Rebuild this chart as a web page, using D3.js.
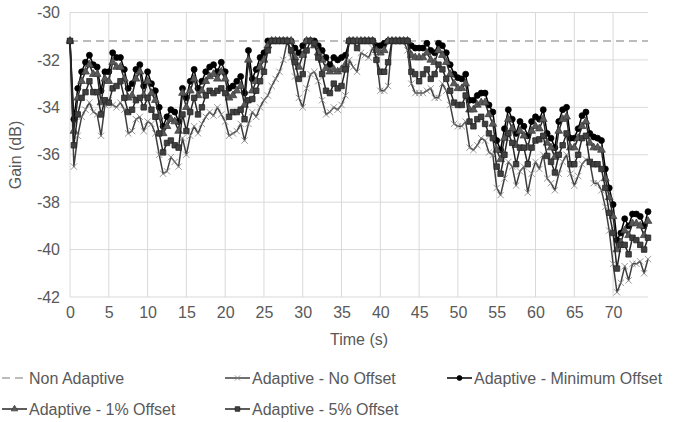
<!DOCTYPE html>
<html><head><meta charset="utf-8">
<script src="https://cdn.jsdelivr.net/npm/d3@7"></script>
<style>body{margin:0;background:#fff}svg{display:block;font-family:"Liberation Sans",Arial,sans-serif}</style>
</head><body><svg id="c" width="688" height="422"></svg>
<script>
const times = [0,0.5,1,1.5,2,2.5,3,3.5,4,4.5,5,5.5,6,6.5,7,7.5,8,8.5,9,9.5,
10,10.5,11,11.5,12,12.5,13,13.5,14,14.5,15,15.5,16,16.5,17,17.5,18,18.5,19,19.5,
20,20.5,21,21.5,22,22.5,23,23.5,24,24.5,25,25.5,26,26.5,27,27.5,28,28.5,29,29.5,
30,30.5,31,31.5,32,32.5,33,33.5,34,34.5,35,35.5,36,36.5,37,37.5,38,38.5,39,39.5,
40,40.5,41,41.5,42,42.5,43,43.5,44,44.5,45,45.5,46,46.5,47,47.5,48,48.5,49,49.5,
50,50.5,51,51.5,52,52.5,53,53.5,54,54.5,55,55.5,56,56.5,57,57.5,58,58.5,59,59.5,
60,60.5,61,61.5,62,62.5,63,63.5,64,64.5,65,65.5,66,66.5,67,67.5,68,68.5,69,69.5,
70,70.5,71,71.5,72,72.5,73,73.5,74,74.5];

const nonAdaptiveTimes = [0, 74.5];
const nonAdaptive = [-31.2, -31.2];

const noOffset = [-31.2,-36.5,-35.2,-34.4,-34.1,-33.8,-34.2,-34.3,-35.2,-33.9,
-33.7,-33.9,-34.0,-33.8,-34.1,-35.1,-35.0,-34.5,-34.4,-35.0,
-34.6,-34.7,-35.1,-36.0,-36.8,-36.7,-36.1,-36.3,-36.5,-35.3,
-36.0,-35.2,-34.8,-35.1,-34.7,-34.4,-34.2,-34.35,-34.0,-34.3,
-34.6,-35.2,-35.1,-35.0,-34.7,-35.4,-34.7,-34.2,-34.4,-34.0,
-33.7,-33.5,-33.1,-32.8,-32.5,-32.0,-31.2,-31.9,-32.7,-33.6,
-34.0,-33.2,-32.6,-32.5,-32.9,-33.7,-34.3,-34.2,-34.0,-34.1,
-33.9,-33.5,-32.0,-32.3,-32.5,-31.7,-31.8,-31.9,-31.5,-31.9,
-33.3,-33.3,-33.1,-31.2,-31.2,-31.2,-31.2,-31.6,-33.0,-33.4,
-33.4,-33.4,-33.3,-33.2,-33.6,-33.6,-33.0,-33.3,-33.9,-34.7,
-34.8,-34.8,-34.6,-35.7,-35.8,-35.6,-35.3,-35.4,-35.9,-36.0,
-37.4,-37.7,-37.0,-36.3,-36.5,-37.3,-36.7,-36.5,-37.6,-36.8,
-36.3,-36.6,-36.0,-37.0,-37.2,-37.5,-36.8,-36.3,-36.0,-36.8,
-37.3,-36.9,-36.4,-36.2,-36.3,-37.2,-37.2,-37.5,-38.2,-39.2,
-40.6,-41.8,-41.4,-40.7,-41.3,-40.6,-40.6,-40.5,-41.0,-40.4];

const minOffset = [-31.2,-34.5,-33.2,-32.5,-32.1,-31.8,-32.2,-32.3,-33.3,-32.5,
-32.5,-31.7,-31.9,-31.9,-32.4,-33.2,-33.0,-32.4,-32.2,-33.1,
-32.5,-33.0,-33.3,-34.0,-34.8,-34.4,-34.1,-34.2,-34.6,-33.2,
-33.6,-32.9,-32.4,-33.2,-32.9,-32.5,-32.3,-32.2,-32.5,-32.1,
-32.5,-33.2,-33.1,-32.9,-32.7,-33.4,-31.6,-32.8,-32.4,-31.9,
-31.7,-31.2,-31.2,-31.2,-31.2,-31.2,-31.2,-31.2,-31.5,-31.7,
-31.4,-31.2,-31.2,-31.2,-31.4,-31.6,-31.9,-32.2,-31.9,-32.0,
-31.9,-31.8,-31.2,-31.2,-31.2,-31.2,-31.2,-31.2,-31.2,-31.4,
-31.4,-31.3,-31.2,-31.2,-31.2,-31.2,-31.2,-31.2,-31.4,-31.5,
-31.5,-31.5,-31.3,-31.6,-31.7,-31.3,-31.4,-31.7,-32.2,-32.6,
-32.75,-32.8,-32.6,-33.7,-33.7,-33.5,-33.4,-33.4,-33.9,-34.2,
-35.4,-35.8,-34.9,-34.1,-34.5,-35.1,-34.6,-34.8,-35.2,-34.6,
-34.4,-34.5,-34.1,-35.1,-35.3,-35.7,-34.6,-34.1,-34.0,-35.3,
-35.3,-34.9,-34.35,-34.2,-35.1,-35.25,-35.3,-35.4,-36.6,-37.4,
-38.1,-39.6,-39.3,-38.7,-39.0,-38.5,-38.5,-38.6,-39.0,-38.4];

const offset1 = [-31.2,-35.0,-33.6,-32.9,-32.5,-32.2,-32.6,-32.6,-33.8,-32.8,
-32.9,-32.1,-32.3,-32.3,-32.8,-33.6,-33.5,-32.8,-32.5,-33.5,
-32.9,-33.4,-33.7,-34.4,-35.1,-34.8,-34.5,-34.6,-35.0,-33.4,
-34.0,-33.3,-32.8,-33.5,-33.3,-32.9,-32.7,-32.6,-32.8,-32.5,
-32.8,-33.6,-33.5,-33.3,-33.1,-33.9,-32.0,-33.3,-32.9,-32.3,
-32.0,-31.4,-31.2,-31.2,-31.2,-31.2,-31.2,-31.2,-31.9,-32.3,
-31.8,-31.2,-31.2,-31.4,-31.7,-32.0,-32.35,-32.5,-32.4,-32.5,
-32.4,-32.2,-31.2,-31.2,-31.2,-31.2,-31.2,-31.2,-31.2,-31.6,
-31.7,-31.6,-31.2,-31.2,-31.2,-31.2,-31.2,-31.2,-31.8,-31.9,
-31.9,-31.9,-31.7,-32.0,-32.1,-31.6,-31.8,-32.1,-32.6,-33.0,
-33.2,-33.2,-33.0,-34.1,-34.1,-33.9,-33.8,-33.8,-34.3,-34.7,
-35.8,-36.2,-35.3,-34.5,-34.9,-35.6,-35.0,-35.2,-35.7,-35.0,
-34.8,-34.9,-34.5,-35.5,-35.7,-36.1,-35.0,-34.5,-34.4,-35.7,
-35.7,-35.3,-34.8,-34.6,-35.5,-35.7,-35.7,-35.8,-37.0,-37.8,
-38.6,-40.0,-39.7,-39.2,-39.4,-38.9,-38.9,-39.0,-39.4,-38.8];

const offset5 = [-31.2,-35.6,-34.3,-33.6,-33.36,-32.9,-33.36,-33.36,-34.3,-33.7,
-33.8,-33.2,-33.1,-32.9,-33.6,-34.2,-34.1,-33.7,-33.6,-34.0,
-33.6,-34.1,-34.4,-35.1,-35.9,-35.5,-35.4,-35.6,-35.7,-34.3,
-35.0,-34.2,-33.6,-34.3,-34.0,-33.5,-33.3,-33.4,-33.3,-33.2,
-33.4,-34.4,-34.2,-34.2,-34.1,-34.5,-33.7,-33.65,-33.3,-32.9,
-32.5,-31.6,-31.2,-31.2,-31.2,-31.2,-31.2,-31.6,-32.1,-32.8,
-32.6,-31.6,-31.2,-31.3,-31.9,-32.6,-33.3,-33.4,-33.0,-33.2,
-33.1,-32.4,-31.2,-31.2,-31.5,-31.2,-31.2,-31.2,-31.2,-32.0,
-32.5,-32.5,-32.1,-31.2,-31.2,-31.2,-31.2,-31.2,-32.5,-32.6,
-32.9,-32.6,-32.4,-32.8,-32.6,-32.2,-32.4,-32.8,-33.3,-33.8,
-33.9,-33.9,-33.5,-34.6,-34.8,-34.5,-34.4,-34.7,-35.1,-35.3,
-36.5,-36.8,-36.0,-35.1,-35.5,-36.4,-35.7,-35.7,-36.4,-35.7,
-35.4,-35.35,-35.2,-36.05,-36.3,-36.75,-36.0,-35.6,-35.1,-36.4,
-36.4,-36.0,-35.3,-35.2,-36.3,-36.4,-36.4,-36.6,-37.4,-38.45,
-39.3,-40.8,-39.8,-39.8,-40.2,-39.5,-39.6,-39.8,-40.0,-39.5];

const xTicks = [0,5,10,15,20,25,30,35,40,45,50,55,60,65,70];
const yTicks = [-42,-40,-38,-36,-34,-32,-30];
const seriesNames = ["Non Adaptive","Adaptive - No Offset","Adaptive - Minimum Offset","Adaptive - 1% Offset","Adaptive - 5% Offset"];

const svg = d3.select("#c");
const x = d3.scaleLinear().domain([0, 74.5]).range([70, 648]);
const y = d3.scaleLinear().domain([-42, -30]).range([297, 12.5]);
const textCol = "#595959";
const fontSize = "16px";

svg.append("g").selectAll("line.h").data(yTicks).join("line")
  .attr("x1", x(0)).attr("x2", x(74.5))
  .attr("y1", d => y(d)).attr("y2", d => y(d))
  .attr("stroke", "#d9d9d9").attr("stroke-width", 1);
svg.append("g").selectAll("line.v").data(xTicks).join("line")
  .attr("x1", d => x(d)).attr("x2", d => x(d))
  .attr("y1", y(-30)).attr("y2", y(-42))
  .attr("stroke", "#d9d9d9").attr("stroke-width", 1);

const yAxis = svg.append("g").attr("transform", `translate(${x(0)},0)`)
  .call(d3.axisLeft(y).tickValues(yTicks).tickSize(0).tickPadding(10).tickFormat(d => String(d)));
yAxis.select(".domain").remove();
yAxis.selectAll("text").attr("fill", textCol).style("font-size", fontSize).style("font-family", '"Liberation Sans",Arial,sans-serif');

const xAxis = svg.append("g").attr("transform", `translate(0,${y(-42)})`)
  .call(d3.axisBottom(x).tickValues(xTicks).tickSize(0).tickPadding(10).tickFormat(d => String(d)));
xAxis.select(".domain").remove();
xAxis.selectAll("text").attr("fill", textCol).style("font-size", fontSize).style("font-family", '"Liberation Sans",Arial,sans-serif');

svg.append("text").attr("x", 359).attr("y", 345).attr("text-anchor", "middle")
  .attr("fill", textCol).style("font-size", fontSize).text("Time (s)");
svg.append("text").attr("transform", "translate(21,155) rotate(-90)").attr("text-anchor", "middle")
  .attr("fill", textCol).style("font-size", fontSize).text("Gain (dB)");

const line = d3.line().x(d => x(d[0])).y(d => y(d[1]));
const zip = (ts, vs) => ts.map((t, i) => [t, vs[i]]);

svg.append("path").datum(zip(nonAdaptiveTimes, nonAdaptive)).attr("d", line)
  .attr("fill", "none").attr("stroke", "#a6a6a6").attr("stroke-width", 1.5).attr("stroke-dasharray", "8,5");

const series = [
  {vals: noOffset, stroke: "#404040", sym: d3.symbolTimes, size: 28, mFill: "none", mStroke: "#808080"},
  {vals: minOffset, stroke: "#000000", sym: d3.symbolCircle, size: 28, mFill: "#000000", mStroke: "#000000"},
  {vals: offset1, stroke: "#262626", sym: d3.symbolTriangle, size: 26, mFill: "#595959", mStroke: "#404040"},
  {vals: offset5, stroke: "#262626", sym: d3.symbolSquare, size: 30, mFill: "#404040", mStroke: "#262626"}
];

series.forEach(s => {
  const data = zip(times, s.vals);
  svg.append("path").datum(data).attr("d", line)
    .attr("fill", "none").attr("stroke", s.stroke).attr("stroke-width", 1.5).attr("stroke-linejoin", "round");
  svg.append("g").selectAll("path").data(data).join("path")
    .attr("transform", d => `translate(${x(d[0])},${y(d[1])})`)
    .attr("d", d3.symbol().type(s.sym).size(s.size))
    .attr("fill", s.mFill).attr("stroke", s.mStroke).attr("stroke-width", 0.8);
});

const legendItems = [
  {name: seriesNames[0], lx: 2, ly: 378, dashed: true},
  {name: seriesNames[1], lx: 225, ly: 378, s: series[0]},
  {name: seriesNames[2], lx: 447, ly: 378, s: series[1]},
  {name: seriesNames[3], lx: 2, ly: 409, s: series[2]},
  {name: seriesNames[4], lx: 225, ly: 409, s: series[3]}
];
legendItems.forEach(it => {
  const g = svg.append("g");
  if (it.dashed) {
    g.append("line").attr("x1", it.lx).attr("x2", it.lx + 25).attr("y1", it.ly).attr("y2", it.ly)
      .attr("stroke", "#a6a6a6").attr("stroke-width", 1.5).attr("stroke-dasharray", "8,5");
  } else {
    g.append("line").attr("x1", it.lx).attr("x2", it.lx + 25).attr("y1", it.ly).attr("y2", it.ly)
      .attr("stroke", it.s.stroke).attr("stroke-width", 1.5);
    g.append("path").attr("transform", `translate(${it.lx + 12.5},${it.ly})`)
      .attr("d", d3.symbol().type(it.s.sym).size(it.s.size * 0.7))
      .attr("fill", it.s.mFill).attr("stroke", it.s.mStroke).attr("stroke-width", 0.8);
  }
  g.append("text").attr("x", it.lx + 27).attr("y", it.ly).attr("dy", "0.35em")
    .attr("fill", textCol).style("font-size", fontSize).text(it.name);
});
</script></body></html>
